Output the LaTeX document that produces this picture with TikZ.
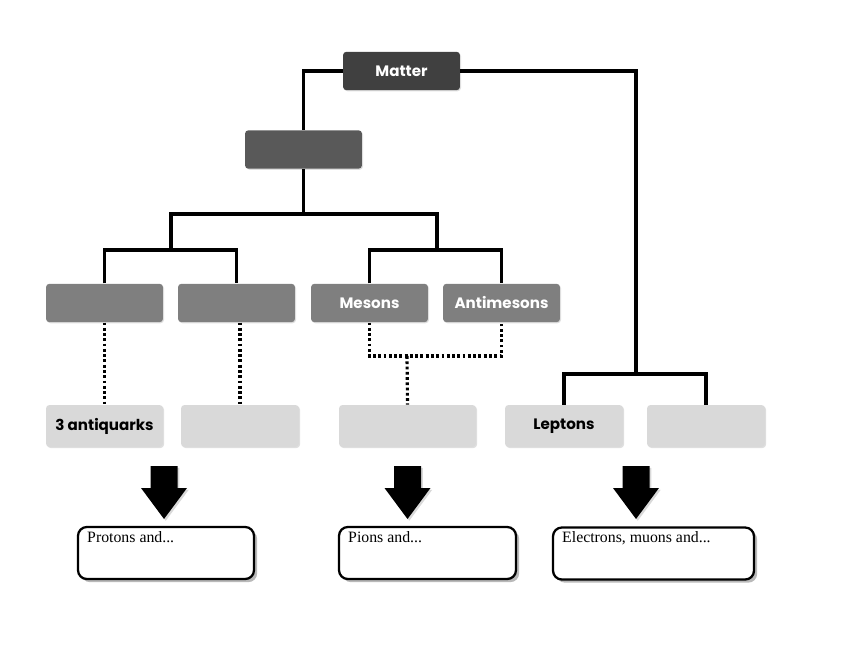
\documentclass[tikz,border=0pt]{standalone}
\usepackage{fontspec}
\usepackage{tikz}
\usetikzlibrary{shadows}

\newfontfamily\gothfont{Poppins}
\newfontfamily\notefont{Liberation Serif}

\definecolor{mattergrey}{HTML}{404040}
\definecolor{hadrongrey}{HTML}{595959}
\definecolor{kindgrey}{HTML}{7F7F7F}
\definecolor{partgrey}{HTML}{D9D9D9}

\tikzset{
  box/.style={rounded corners=2pt, inner sep=0pt, minimum width=2.34cm,
    minimum height=0.77cm, font=\gothfont\bfseries\fontsize{8.6}{10}\selectfont,
    drop shadow={shadow xshift=0.6pt, shadow yshift=-0.6pt, opacity=0.25}},
  matterbox/.style={box, fill=mattergrey, text=white},
  hadronbox/.style={box, fill=hadrongrey},
  kindbox/.style={box, fill=kindgrey, text=white},
  partbox/.style={box, fill=partgrey, text=black, minimum height=0.84cm},
  notebox/.style={draw=black, line width=1.3pt, fill=white, rounded corners=5pt,
    minimum height=1.04cm, inner sep=0pt,
    drop shadow={shadow xshift=1.8pt, shadow yshift=-1.8pt, opacity=0.55}},
  notetext/.style={font=\notefont\fontsize{9}{10}\selectfont, inner sep=0pt,
    anchor=north west, xshift=0.2cm, yshift=-0.1cm},
  tree/.style={line width=1.8pt},
  dots/.style={line width=1.8pt, dash pattern=on 1.6pt off 1.4pt},
  downarrow/.pic={
    \fill[black, drop shadow={shadow xshift=1pt, shadow yshift=-1pt, opacity=0.3}]
      (-13.5,0) -- (13.5,0) -- (13.5,22) -- (23,22) -- (0,53)
      -- (-23,22) -- (-13.5,22) -- cycle;}
}

\begin{document}
\begin{tikzpicture}[x=0.02cm, y=-0.02cm]
    \useasboundingbox (0,0) rectangle (854,655);

    % top of the tree
    \node[matterbox] (matter) at (401.5,71) {Matter};
    \node[hadronbox] (hadrons) at (303.5,149.5) {};

    % second row
    \node[kindbox] (baryons) at (104.5,303) {};
    \node[kindbox] (antibaryons) at (236.5,303) {};
    \node[kindbox] (mesons) at (369.5,303) {Mesons};
    \node[kindbox] (antimesons) at (501.5,303) {Antimesons};

    % third row
    \node[partbox] (antiquarks) at (104.5,426) {3 antiquarks};
    \node[partbox, minimum width=2.36cm] (quarks) at (240,426) {};
    \node[partbox, minimum width=2.74cm] (pairs) at (407.5,426) {};
    \node[partbox, minimum width=2.36cm] (leptons) at (564,426) {Leptons};
    \node[partbox, minimum width=2.36cm] (antileptons) at (706,426) {};

    % forks
    \coordinate (split) at (303.5,214);
    \coordinate (baryfork) at (171,250);
    \coordinate (mesfork) at (437,250);
    \coordinate (dotjoin) at (407,356);
    \coordinate (lepfork) at (636,374);

    \draw[tree] (matter.west) -| (hadrons.north);
    \draw[tree] (matter.east) -| (lepfork);
    \draw[tree] (hadrons.south) -- (split);
    \draw[tree] (baryfork) |- (split) -| (mesfork);
    \draw[tree] (baryons.north) |- (baryfork) -| (antibaryons.north);
    \draw[tree] (mesons.north) |- (mesfork) -| (antimesons.north);
    \draw[tree] (leptons.north) |- (lepfork) -| (antileptons.north);

    \draw[dots] (baryons.south) -- (antiquarks.north);
    \draw[dots] (antibaryons.south -| quarks.north) -- (quarks.north);
    \draw[dots] (mesons.south) |- (dotjoin) -| (antimesons.south);
    \draw[dots] (dotjoin) -- (pairs.north);

    % big arrows
    \pic at (164,466) {downarrow};
    \pic at (407.5,466) {downarrow};
    \pic at (636,466) {downarrow};

    % what they make
    \node[notebox, minimum width=3.52cm,
      label={[notetext]north west:Protons and...}] (protons) at (166,553) {};
    \node[notebox, minimum width=3.54cm,
      label={[notetext]north west:Pions and...}] (pions) at (427.5,553) {};
    \node[notebox, minimum width=4.02cm,
      label={[notetext]north west:Electrons, muons and...}] (electrons) at (653.5,553.5) {};
\end{tikzpicture}
\end{document}
